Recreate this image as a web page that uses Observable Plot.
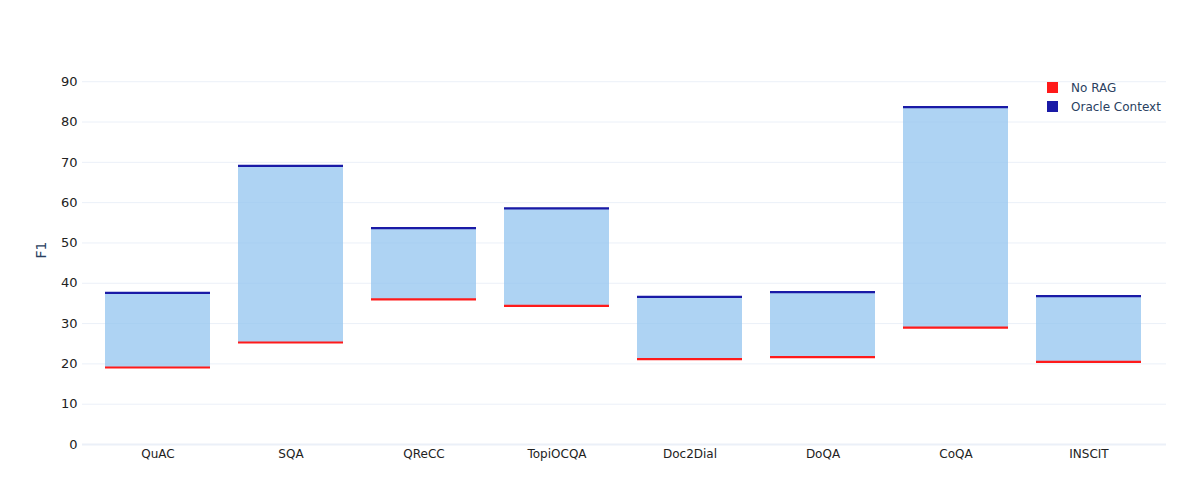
<!DOCTYPE html>
<html>
<head>
<meta charset="utf-8">
<script src="https://cdn.jsdelivr.net/npm/d3@7"></script>
<script src="https://cdn.jsdelivr.net/npm/@observablehq/plot@0.6"></script>
<style>
  html, body { margin: 0; padding: 0; background: #fff; }
  #wrap { position: relative; width: 1204px; height: 496px; font-family: "DejaVu Sans", Verdana, sans-serif; }
  #legend { position: absolute; left: 1047px; top: 78px; font-size: 12px; color: #2a3f5f; }
  #legend .item { display: flex; align-items: center; height: 19px; }
  #legend .sw { width: 11px; height: 11px; margin-right: 13px; }
</style>
</head>
<body>
<div id="wrap"></div>
<script>
const categories = ["QuAC", "SQA", "QReCC", "TopiOCQA", "Doc2Dial", "DoQA", "CoQA", "INSCIT"];
const noRag = [19.1, 25.3, 36.0, 34.4, 21.2, 21.7, 29.0, 20.5];
const oracle = [37.6, 69.1, 53.7, 58.6, 36.6, 37.8, 83.7, 36.8];
const yTicks = [0, 10, 20, 30, 40, 50, 60, 70, 80, 90];
const seriesNames = ["No RAG", "Oracle Context"];
const seriesColors = ["#ff1a1a", "#1a1aa6"];

const rows = categories.map((c, i) => ({ name: c, low: noRag[i], high: oracle[i] }));

const chart = Plot.plot({
  width: 1204,
  height: 496,
  marginLeft: 82,
  marginRight: 38,
  marginTop: 80,
  marginBottom: 52,
  style: { fontFamily: "DejaVu Sans, Verdana, sans-serif", fontSize: "12px", color: "#222", background: "#fff" },
  x: { domain: categories, range: [90, 1156], paddingInner: 0.21, paddingOuter: 0.105, label: null },
  y: { domain: [0, 90.3], label: null },
  marks: [
    Plot.gridY(yTicks, { stroke: "#ebf0f8", strokeOpacity: 1, strokeWidth: 1 }),
    Plot.ruleY([0], { stroke: "#ebf0f8", strokeWidth: 2 }),
    Plot.barY(rows, { x: "name", y1: "low", y2: "high", fill: "#93c4ef", fillOpacity: 0.75 }),
    Plot.tickY(rows, { x: "name", y: "low", stroke: seriesColors[0], strokeWidth: 2.2 }),
    Plot.tickY(rows, { x: "name", y: "high", stroke: seriesColors[1], strokeWidth: 2.2 }),
    Plot.axisY(yTicks, { tickSize: 0, tickPadding: 5, label: null, fontSize: 13 }),
    Plot.axisX({ tickSize: 0, tickPadding: 5, label: null, fontSize: 12 }),
    Plot.text(["F1"], { frameAnchor: "left", dx: -41, dy: -4, rotate: -90, fontSize: 14, fill: "#2a3f5f" })
  ]
});
const wrap = document.getElementById("wrap");
wrap.appendChild(chart);

const legend = document.createElement("div");
legend.id = "legend";
seriesNames.forEach((n, i) => {
  const item = document.createElement("div");
  item.className = "item";
  const sw = document.createElement("div");
  sw.className = "sw";
  sw.style.background = seriesColors[i];
  const t = document.createElement("span");
  t.textContent = n;
  item.appendChild(sw);
  item.appendChild(t);
  legend.appendChild(item);
});
wrap.appendChild(legend);
</script>
</body>
</html>
